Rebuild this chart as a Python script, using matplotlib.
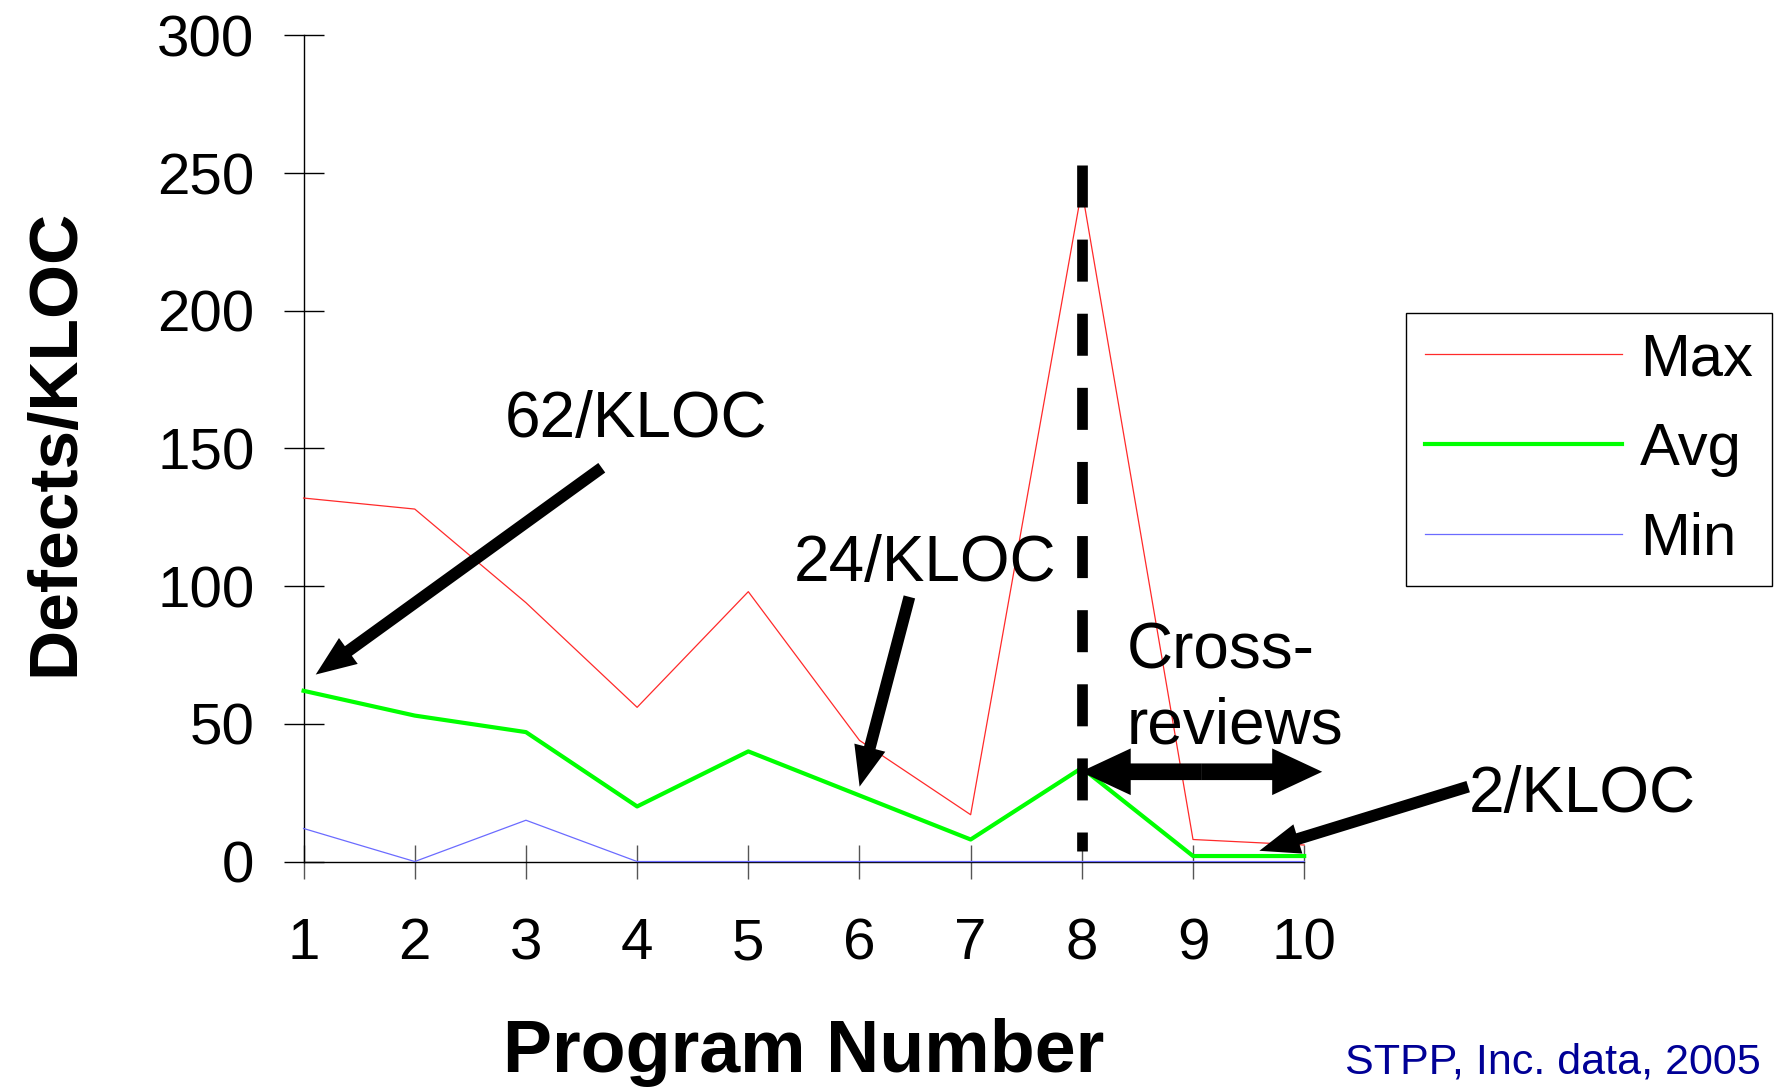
import matplotlib
matplotlib.use("Agg")
import matplotlib.pyplot as plt
from matplotlib import font_manager
from matplotlib.patches import FancyArrowPatch, ArrowStyle

# Defects per KLOC by program number
programs = [1, 2, 3, 4, 5, 6, 7, 8, 9, 10]
max_defects = [132, 128, 94, 56, 98, 44, 17, 244, 8, 6]
avg_defects = [62, 53, 47, 20, 40, 24, 8, 34, 2, 2]
min_defects = [12, 0, 15, 0, 0, 0, 0, 0, 0, 0]
y_ticks = [0, 50, 100, 150, 200, 250, 300]
x_tick_labels = [str(p) for p in programs]
series_labels = ["Max", "Avg", "Min"]

# cross-review start (program 8)
cross_review_x = 8
cross_review_top = 253

plt.rcParams["font.family"] = ["Liberation Sans", "DejaVu Sans"]

installed = {f.name for f in font_manager.fontManager.ttflist}
if "Liberation Sans Narrow" in installed:
    ylabel_family, ylabel_size = ["Liberation Sans Narrow"], 62
else:
    ylabel_family, ylabel_size = ["Liberation Sans", "DejaVu Sans"], 50

fig = plt.figure(figsize=(17.89, 10.90), dpi=100)
ax = fig.add_axes([0.1697, 0.2096, 0.5593, 0.7579])

ax.plot(programs, max_defects, color="#ff2a2a", lw=0.9, zorder=3,
        clip_on=False, label=series_labels[0])
ax.plot(programs, avg_defects, color="#00ff00", lw=3.0, zorder=4,
        clip_on=False, label=series_labels[1])
ax.plot(programs, min_defects, color="#6b6bff", lw=0.9, zorder=3,
        clip_on=False, label=series_labels[2])

# vertical dashed divider
ax.plot([cross_review_x, cross_review_x], [cross_review_top, 3.8],
        color="black", lw=7.7, dashes=(3.93, 3.0), dash_capstyle="butt",
        zorder=5, clip_on=False)

ax.set_xlim(1, 10)
ax.set_ylim(0, 300)
ax.set_xticks(programs)
ax.set_xticklabels(x_tick_labels)
ax.set_yticks(y_ticks)

for side in ("top", "right"):
    ax.spines[side].set_visible(False)
ax.spines["left"].set_linewidth(1.0)
ax.spines["bottom"].set_linewidth(1.0)

ax.tick_params(axis="y", direction="inout", length=28.8, width=1.0,
               pad=21, labelsize=42)
ax.tick_params(axis="x", direction="inout", length=24.5, width=1.0,
               pad=28, labelsize=42, color="#555555")


def arrow(tail, tip, head_length, head_width, tail_width):
    style = ArrowStyle.Simple(head_length=head_length, head_width=head_width,
                              tail_width=tail_width)
    p = FancyArrowPatch(posA=tail, posB=tip, arrowstyle=style,
                        mutation_scale=1, facecolor="black",
                        edgecolor="black", lw=0, shrinkA=0, shrinkB=0,
                        transform=ax.transData, clip_on=False, zorder=6)
    ax.add_patch(p)


# call-outs
ax.text(2.81, 154.0, "62/KLOC", fontsize=46, ha="left", va="baseline")
arrow((3.682, 143.0), (1.109, 67.9), 29, 23, 8.5)

ax.text(5.41, 101.9, "24/KLOC", fontsize=46, ha="left", va="baseline")
arrow((6.449, 96.1), (6.001, 27.2), 29, 23, 8.5)

ax.text(8.40, 87.1, "Cross-\nreviews", fontsize=46, ha="left", va="top",
        linespacing=1.32)
arrow((9.08, 32.6), (7.99, 32.6), 36, 33.6, 12)
arrow((9.08, 32.6), (10.162, 32.6), 36, 33.6, 12)

ax.text(11.48, 18.1, "2/KLOC", fontsize=46, ha="left", va="baseline")
arrow((11.475, 27.2), (9.597, 3.9), 29, 22, 8.5)

leg = ax.legend(loc="upper left", bbox_to_anchor=(0.7857, 0.7126),
                bbox_transform=fig.transFigure, borderaxespad=0,
                frameon=True, fancybox=False, edgecolor="black",
                framealpha=1, fontsize=43, handlelength=3.3,
                handletextpad=0.3, labelspacing=0.58, borderpad=0.32)
leg.get_frame().set_linewidth(1.0)

fig.text(0.0410, 0.594, "Defects/KLOC", rotation=90, rotation_mode="anchor",
         ha="center", va="baseline", fontsize=ylabel_size, fontweight="bold",
         family=ylabel_family)
fig.text(0.4493, 0.0165, "Program Number", ha="center", va="baseline",
         fontsize=53, fontweight="bold")
fig.text(1345 / 1789, 1 - 1073.3 / 1090, "STPP, Inc. data, 2005",
         color="#000096", fontsize=31, ha="left", va="baseline")

fig.savefig("out.png", dpi=100)
